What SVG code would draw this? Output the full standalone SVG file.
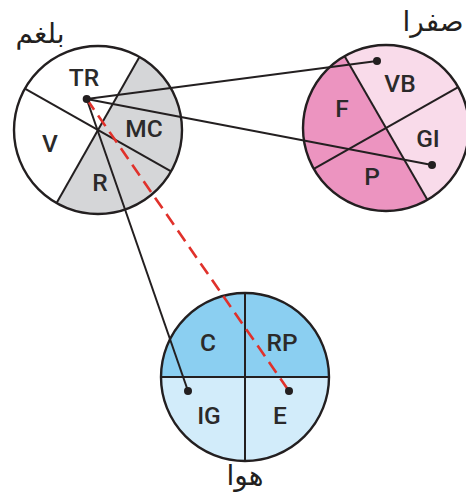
<svg xmlns="http://www.w3.org/2000/svg" width="466" height="495" viewBox="0 0 466 495">
<style>
.lbl{font-family:Roboto,"Liberation Sans",Arial,sans-serif;font-size:24.5px;font-weight:500;fill:#2b2a2a;text-anchor:middle}
.ar{font-family:"DejaVu Sans","Noto Sans",sans-serif;font-size:28px;fill:#231f20;text-anchor:middle}
.ln{stroke:#231f20;stroke-width:2;fill:none}
.rim{stroke:#231f20;stroke-width:2.4}
.dot{fill:#231f20}
</style>
<rect width="466" height="495" fill="#ffffff"/>
<g id="balgham">
<circle cx="98" cy="130" r="84" fill="#ffffff"/>
<path d="M139.4,56.9 A84,84 0 0 1 56.6,203.1 Z" fill="#d5d6d8"/>
<circle cx="98" cy="130" r="84" class="rim" fill="none"/>
<line x1="139.4" y1="56.9" x2="56.6" y2="203.1" class="ln"/>
<line x1="24.9" y1="88.6" x2="171.1" y2="171.4" class="ln"/>
<text class="lbl" x="84" y="86">TR</text>
<text class="lbl" x="50" y="152">V</text>
<text class="lbl" x="144" y="137">MC</text>
<text class="lbl" x="100" y="191">R</text>
<text class="ar" x="40" y="43">بلغم</text>
</g>
<g id="safra">
<circle cx="386" cy="128" r="83" fill="#f9dbea"/>
<path d="M344.5,56.1 A83,83 0 0 0 427.5,199.9 Z" fill="#ec94c0"/>
<circle cx="386" cy="128" r="83" class="rim" fill="none"/>
<line x1="344.5" y1="56.1" x2="427.5" y2="199.9" class="ln"/>
<line x1="458.2" y1="87.1" x2="313.8" y2="168.9" class="ln"/>
<text class="lbl" x="400" y="92">VB</text>
<text class="lbl" x="342" y="117">F</text>
<text class="lbl" x="428" y="147">GI</text>
<text class="lbl" x="372" y="185">P</text>
<text class="ar" x="433" y="31">صفرا</text>
</g>
<g id="hava">
<circle cx="245" cy="377" r="84" fill="#d2ecfa"/>
<path d="M161,377 A84,84 0 0 1 329,377 Z" fill="#8bcff1"/>
<circle cx="245" cy="377" r="84" class="rim" fill="none"/>
<line x1="161" y1="377" x2="329" y2="377" class="ln"/>
<line x1="245" y1="293" x2="245" y2="461" class="ln"/>
<text class="lbl" x="208" y="351">C</text>
<text class="lbl" x="282" y="351">RP</text>
<text class="lbl" x="209" y="424">IG</text>
<text class="lbl" x="280" y="424">E</text>
<text class="ar" x="245" y="485">هوا</text>
</g>
<g id="connectors">
<line x1="86.7" y1="99" x2="377" y2="61" class="ln"/>
<line x1="86.7" y1="99" x2="432" y2="165" class="ln"/>
<line x1="86.7" y1="99" x2="188" y2="391" class="ln"/>
<line x1="86.7" y1="99" x2="289" y2="391" stroke="#e0312b" stroke-width="2.6" stroke-dasharray="13,7"/>
<circle cx="86.7" cy="99" r="4" class="dot"/>
<circle cx="377" cy="61" r="4" class="dot"/>
<circle cx="432" cy="165" r="4" class="dot"/>
<circle cx="188" cy="391" r="4" class="dot"/>
<circle cx="289" cy="391" r="4" class="dot"/>
</g>
</svg>
